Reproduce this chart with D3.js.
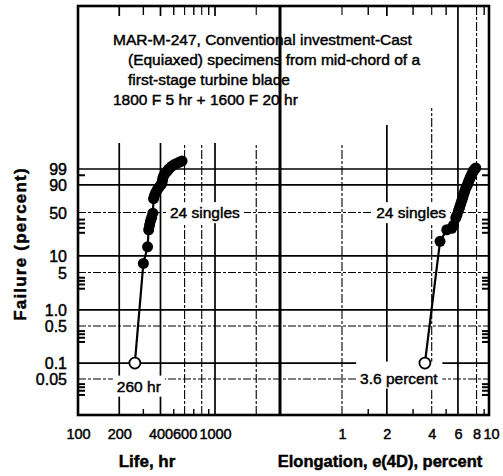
<!DOCTYPE html>
<html>
<head>
<meta charset="utf-8">
<script src="https://cdn.jsdelivr.net/npm/d3@7/dist/d3.min.js"></script>
<style>
  html, body { margin: 0; padding: 0; background: #fff; }
  svg { display: block; }
  .t { font-family: "Liberation Sans", Arial, sans-serif; fill: #000; }
  .heavy { stroke: #000; stroke-width: 0.45px; }
</style>
</head>
<body>
<svg id="chart" width="503" height="476"></svg>
<script>
// ---- chart content ----
const titleLines = [
  "MAR-M-247, Conventional investment-Cast",
  "(Equiaxed) specimens from mid-chord of a",
  "first-stage turbine blade",
  "1800 F 5 hr + 1600 F 20 hr"
];

// Failure axis (Weibull probability scale), percent
const failureTicks = [99, 90, 50, 10, 5, 1.0, 0.5, 0.1, 0.05];
const failureTickLabels = ["99", "90", "50", "10", "5", "1.0", "0.5", "0.1", "0.05"];
const failureGridMajor = [99, 90, 10, 1.0, 0.1];
const failureGridMinor = [50, 5, 0.5, 0.05];
const failureEdgeTicks = [97, 40, 35, 30, 25, 4, 3.5, 3, 2.5, 0.4, 0.35, 0.3, 0.25, 0.04, 0.035, 0.03, 0.025];

// Life axis, hr
const lifeTicks = [100, 200, 400, 600, 1000];
const lifeGridMajor = [200, 400, 1000];
const lifeGridMinor = [600, 800, 2000];
const lifeEdgeTicks = [300, 500, 700, 900];

// Elongation axis, percent
const elongTicks = [1, 2, 4, 6, 8, 10];
const elongGridMajor = [2, 6];
const elongGridMinor = [1, 4, 8];
const elongEdgeTicks = [1.5, 3, 5, 9];

// 24 single specimens: rupture life (hr) and failure probability (%)
const lifeHr = [300, 322, 328, 333, 338, 345, 352, 356, 362, 370, 380, 392,
                405, 412, 415, 420, 430, 445, 460, 480, 500, 525, 550, 575];
const lifeFailure = [7.3, 14.5, 28, 33, 38, 43, 49, 72, 77, 81, 85, 88,
                     90.5, 93, 95, 96.5, 97.6, 98.4, 99.0, 99.4, 99.6, 99.72, 99.8, 99.85];

// 24 single specimens: elongation (%) and failure probability (%)
const elongPct = [4.55, 5.05, 5.45, 5.6, 5.8, 5.9, 6.05, 6.15, 6.25, 6.35, 6.45, 6.55,
                  6.65, 6.75, 6.9, 7.0, 7.1, 7.2, 7.3, 7.4, 7.5, 7.6, 7.75, 7.9];
const elongFailure = [18, 28, 29.5, 33, 42, 46, 53, 58, 63, 68, 73, 78,
                      82, 86, 89, 91.5, 93.5, 95, 96.3, 97.2, 97.9, 98.5, 98.9, 99.2];

// Threshold (lower-bound) estimates
const lifeThreshold = 260;      // hr at 0.1 percent failure
const elongThreshold = 3.6;     // percent at 0.1 percent failure
const thresholdFailure = 0.1;

// ---- scales ----
const frame = { left: 78, right: 489, top: 6, bottom: 415, split: 280 };
const W = p => Math.log(-Math.log(1 - p / 100));
const yW = d3.scaleLinear().domain([W(0.05), W(99)]).range([379, 169]);
const fy = p => yW(W(p));
const xLife = d3.scaleLog().domain([100, 1000]).range([78, 215]);
const xElong = d3.scaleLog().domain([1, 10]).range([342, 491]);

const svg = d3.select("#chart");
svg.append("rect").attr("width", 503).attr("height", 476).attr("fill", "#fff");

// ---- grid ----
const grid = svg.append("g").attr("stroke", "#000").attr("fill", "none");
const hLine = (p, major) => grid.append("line")
  .attr("x1", frame.left).attr("x2", frame.right)
  .attr("y1", fy(p)).attr("y2", fy(p))
  .attr("stroke-width", major ? 1.7 : 1.1)
  .attr("stroke-dasharray", major ? null : "8,2,3,2");
failureGridMajor.forEach(p => hLine(p, true));
failureGridMinor.forEach(p => hLine(p, false));

const vLine = (x, major) => grid.append("line")
  .attr("x1", x).attr("x2", x)
  .attr("y1", frame.top).attr("y2", frame.bottom)
  .attr("stroke-width", major ? 1.7 : 1.1)
  .attr("stroke-dasharray", major ? null : "9,2,3,2");
lifeGridMajor.forEach(v => vLine(xLife(v), true));
lifeGridMinor.forEach(v => vLine(xLife(v), false));
elongGridMajor.forEach(v => vLine(xElong(v), true));
elongGridMinor.forEach(v => vLine(xElong(v), false));

// ---- title block: blank panel over the grid, stepped along its lower right ----
const blank = svg.append("g").attr("fill", "#fff").attr("stroke", "none");
blank.append("rect").attr("x", frame.left + 1.5).attr("y", 16).attr("width", 380 - frame.left - 1.5).attr("height", 127);
blank.append("rect").attr("x", 380).attr("y", 16).attr("width", 35).attr("height", 109);
blank.append("rect").attr("x", 415).attr("y", 16).attr("width", 37).attr("height", 92);

// short edge ticks at the intermediate log positions
const edge = svg.append("g").attr("stroke", "#000").attr("stroke-width", 1.4);
[...lifeEdgeTicks.map(v => xLife(v)), ...elongEdgeTicks.map(v => xElong(v))].forEach(x => {
  edge.append("line").attr("x1", x).attr("x2", x).attr("y1", frame.top).attr("y2", frame.top + 9);
  edge.append("line").attr("x1", x).attr("x2", x).attr("y1", frame.bottom - 6).attr("y2", frame.bottom);
});
failureEdgeTicks.forEach(p => {
  edge.append("line").attr("x1", frame.left).attr("x2", frame.left + 7).attr("y1", fy(p)).attr("y2", fy(p)).attr("stroke-width", 2);
  edge.append("line").attr("x1", frame.right - 7).attr("x2", frame.right).attr("y1", fy(p)).attr("y2", fy(p)).attr("stroke-width", 2);
});

const title = svg.append("g");
titleLines.forEach((s, i) => {
  title.append("text").attr("class", "t heavy")
    .attr("x", (i === 1 || i === 2) ? 128 : 113)
    .attr("y", 45 + i * 20)
    .attr("font-size", 15.5)
    .text(s);
});

// ---- annotations with white backing ----
function note(x, y, text, anchor, padTop = 2) {
  const g = svg.append("g");
  const bg = g.append("rect").attr("fill", "#fff");
  const t = g.append("text").attr("class", "t heavy")
    .attr("x", x).attr("y", y).attr("dy", "0.36em")
    .attr("text-anchor", anchor).attr("font-size", 15.5).text(text);
  const b = t.node().getBBox();
  bg.attr("x", b.x - 4).attr("y", b.y - padTop).attr("width", b.width + 8).attr("height", b.height + padTop + 2);
}
note(170, fy(50), "24 singles", "start");
note(446, fy(50), "24 singles", "end");
note(xLife(lifeThreshold) + 4, fy(thresholdFailure) + 23, "260 hr", "middle");
note(xElong(elongThreshold) - 26, fy(thresholdFailure) + 15, "3.6 percent", "middle", 8);

// ---- data ----
function series(xs, fs, x0, scaleX) {
  const pts = [[scaleX(x0), fy(thresholdFailure)], ...xs.map((v, i) => [scaleX(v), fy(fs[i])])];
  svg.append("path")
    .attr("d", d3.line()(pts))
    .attr("fill", "none").attr("stroke", "#000").attr("stroke-width", 2.2);
  svg.append("g").selectAll("circle").data(xs).join("circle")
    .attr("cx", d => scaleX(d)).attr("cy", (d, i) => fy(fs[i]))
    .attr("r", 5.5).attr("fill", "#000");
  svg.append("circle")
    .attr("cx", scaleX(x0)).attr("cy", fy(thresholdFailure))
    .attr("r", 5.5).attr("fill", "#fff").attr("stroke", "#000").attr("stroke-width", 1.8);
}
series(lifeHr, lifeFailure, lifeThreshold, xLife);
series(elongPct, elongFailure, elongThreshold, xElong);

// ---- frame ----
svg.append("rect")
  .attr("x", frame.left).attr("y", frame.top)
  .attr("width", frame.right - frame.left).attr("height", frame.bottom - frame.top)
  .attr("fill", "none").attr("stroke", "#000").attr("stroke-width", 2.6);
svg.append("line")
  .attr("x1", frame.split).attr("x2", frame.split)
  .attr("y1", frame.top).attr("y2", frame.bottom)
  .attr("stroke", "#000").attr("stroke-width", 3);

// ---- axes ----
const yAxis = d3.axisLeft(yW)
  .tickValues(failureTicks.map(W))
  .tickFormat((d, i) => failureTickLabels[i])
  .tickSize(0).tickPadding(0);
const gy = svg.append("g").attr("transform", "translate(67,0)").call(yAxis);
gy.select(".domain").remove();
gy.selectAll("text").attr("class", "t heavy").attr("font-size", 16)
  .attr("font-family", null).attr("dy", "0.36em");

function xAxis(scale, ticks) {
  const a = d3.axisBottom(scale).tickValues(ticks).tickFormat(d3.format("d")).tickSize(0).tickPadding(0);
  const g = svg.append("g").attr("transform", "translate(0,428)").call(a);
  g.select(".domain").remove();
  g.selectAll("text").attr("class", "t heavy").attr("font-size", 14.5)
    .attr("font-family", null).attr("dy", "0.75em");
}
xAxis(xLife, lifeTicks);
xAxis(xElong, elongTicks);

svg.append("text").attr("class", "t heavy").attr("font-weight", "bold").attr("font-size", 17)
  .attr("x", 147).attr("y", 467).attr("text-anchor", "middle").text("Life, hr");
svg.append("text").attr("class", "t heavy").attr("font-weight", "bold").attr("font-size", 16.5)
  .attr("x", 380).attr("y", 467).attr("text-anchor", "middle").text("Elongation, e(4D), percent");
svg.append("text").attr("class", "t heavy").attr("font-weight", "bold").attr("font-size", 17)
  .attr("transform", "translate(26,244) rotate(-90)")
  .attr("text-anchor", "middle").attr("letter-spacing", 1.2).text("Failure (percent)");
</script>
</body>
</html>
